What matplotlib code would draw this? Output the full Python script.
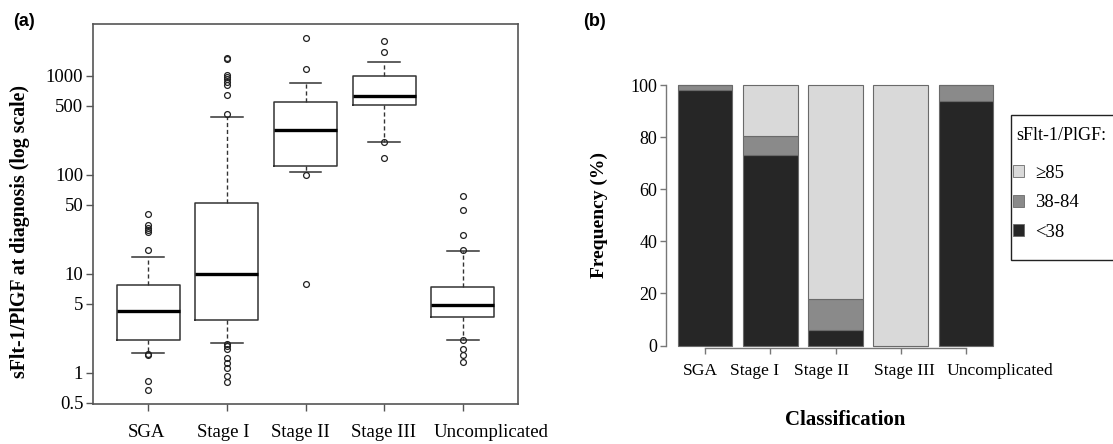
import matplotlib
matplotlib.use("Agg")
import matplotlib.pyplot as plt
import matplotlib.transforms as mtransforms
from matplotlib.patches import Patch, Rectangle

plt.rcParams['font.family'] = ['Liberation Serif', 'DejaVu Serif']

# ---------- DATA ----------
groups = ["SGA", "Stage I", "Stage II", "Stage III", "Uncomplicated"]

# panel (a): sFlt-1/PlGF box plot summaries
medians = [4.2, 10, 285, 624, 4.87]
q1 = [2.15, 3.43, 123, 513, 3.68]
q3 = [7.7, 51.8, 550, 1000, 7.45]
whisker_lo = [1.58, 2.0, 106, 215, 2.15]
whisker_hi = [14.7, 388, 844, 1375, 16.9]
outliers = [
    [40, 31, 29.4, 27.8, 26.5, 17.6, 1.55, 1.52, 0.82, 0.67],
    [1530, 1485, 1020, 984, 925, 877, 805, 638, 416,
     1.95, 1.85, 1.75, 1.41, 1.25, 1.11, 0.92, 0.81],
    [2400, 1170, 100, 7.9],
    [2260, 1757, 214, 150],
    [61.8, 44.7, 24.8, 17.6, 2.13, 1.76, 1.51, 1.29],
]
log_ticks = [0.5, 1, 5, 10, 50, 100, 500, 1000]
log_tick_labels = ["0.5", "1", "5", "10", "50", "100", "500", "1000"]

# panel (b): frequency (%) per ratio band
pct_lt38 = [98, 73, 6, 0, 94]
pct_38_84 = [2, 7.3, 11.9, 0, 6]
pct_ge85 = [0, 19.7, 82.1, 100, 0]
freq_ticks = [0, 20, 40, 60, 80, 100]
band_labels = ["\u226585", "38-84", "<38"]

# ---------- FIGURE ----------
fig = plt.figure(figsize=(11.13, 4.44), dpi=100)
W, H = 1113, 444

def px_axes(x0, y0, x1, y1):
    return fig.add_axes([x0 / W, 1 - y1 / H, (x1 - x0) / W, (y1 - y0) / H])

frame_col = "#555555"

# ---------- PANEL (a) ----------
ax1 = px_axes(93, 24, 518, 404)
stats = []
for i, g in enumerate(groups):
    stats.append(dict(label=g, med=medians[i], q1=q1[i], q3=q3[i],
                      whislo=whisker_lo[i], whishi=whisker_hi[i],
                      fliers=outliers[i]))
ax1.bxp(stats, positions=range(1, 6), widths=0.8, capwidths=0.4,
        boxprops=dict(color="#333333", lw=1.1),
        medianprops=dict(color="black", lw=2.4),
        whiskerprops=dict(color="#333333", lw=1.0, linestyle=(0, (3, 2))),
        capprops=dict(color="#333333", lw=1.1),
        flierprops=dict(marker="o", markerfacecolor="none",
                        markeredgecolor="#222222", markersize=4.2,
                        markeredgewidth=0.9))
ax1.set_yscale("log")
ax1.set_ylim(0.485, 3350)
ax1.set_xlim(0.3, 5.7)
ax1.set_yticks(log_ticks)
ax1.set_yticklabels(log_tick_labels)
ax1.minorticks_off()
ax1.set_xticks(range(1, 6))
ax1.set_xticklabels([])
ax1.tick_params(axis="y", direction="out", length=5, width=1,
                color=frame_col, labelsize=13.5, pad=2)
ax1.tick_params(axis="x", direction="out", length=5, width=1,
                color=frame_col)
for s in ax1.spines.values():
    s.set_color(frame_col)
    s.set_linewidth(1.2)
# category names drift off their ticks in the original layout
trans1 = mtransforms.blended_transform_factory(ax1.transData, ax1.transAxes)
label_x_a = [0.975, 1.957, 2.94, 3.99, 5.36]
for lx, g in zip(label_x_a, groups):
    ax1.text(lx, -0.0763, g, ha="center", va="center", fontsize=13.5,
             transform=trans1)
ax1.set_ylabel("sFlt-1/PlGF at diagnosis (log scale)", fontsize=14.3,
               fontweight="bold")
ax1.yaxis.set_label_coords(-63 / 425, 0.455)

# ---------- PANEL (b) ----------
ax2 = px_axes(665.7, 74.6, 1005.3, 356)
x = [0.7 + 1.2 * i for i in range(len(groups))]
c_dark, c_mid, c_light = "#262626", "#8a8a8a", "#d9d9d9"
edge = "#6a6a6a"
bottom2 = [a + b for a, b in zip(pct_lt38, pct_38_84)]
ax2.bar(x, pct_lt38, width=1.0, color=c_dark, edgecolor=edge, lw=0.8)
ax2.bar(x, pct_38_84, width=1.0, bottom=pct_lt38, color=c_mid,
        edgecolor=edge, lw=0.8)
ax2.bar(x, pct_ge85, width=1.0, bottom=bottom2, color=c_light,
        edgecolor=edge, lw=0.8)
ax2.set_xlim(-0.032, 6.232)
ax2.set_ylim(-4, 104)
ax2.set_yticks(freq_ticks)
ax2.set_yticklabels([str(t) for t in freq_ticks])
ax2.set_xticks(x)
ax2.set_xticklabels([])
for side in ("top", "right"):
    ax2.spines[side].set_visible(False)
ax2.spines["left"].set_bounds(0, 100)
ax2.spines["bottom"].set_bounds(x[0], x[-1])
ax2.spines["bottom"].set_position(("data", -1))
for s in ("left", "bottom"):
    ax2.spines[s].set_color("#777777")
    ax2.spines[s].set_linewidth(1.0)
ax2.tick_params(axis="y", direction="out", length=4, width=1,
                color="#777777", labelsize=13, pad=2)
ax2.tick_params(axis="x", direction="out", length=4, width=1,
                color="#777777")
label_x_b = [0.60, 1.61, 2.85, 4.38, 6.14]
for lx, g in zip(label_x_b, groups):
    ax2.text(lx, -9.8, g, ha="center", va="center", fontsize=12.6)
ax2.set_ylabel("Frequency (%)", fontsize=14, fontweight="bold")
ax2.yaxis.set_label_coords(-58 / 339.6, 0.5)
fig.text(845 / W, 1 - 420 / H, "Classification", ha="center", va="center",
         fontsize=15, fontweight="bold")

# legend: framed box running off the right edge, as in the original
fig.patches.append(Rectangle((1010.7 / W, 1 - 260 / H), 120 / W, 145 / H,
                             transform=fig.transFigure, facecolor="white",
                             edgecolor="#222222", lw=1.0, zorder=3))
fig.text(1016.5 / W, 1 - 135 / H, "sFlt-1/PlGF:", ha="left", va="center",
         fontsize=13, zorder=4)
handles = [Patch(facecolor=c_light, edgecolor=edge, lw=0.6),
           Patch(facecolor=c_mid, edgecolor=edge, lw=0.6),
           Patch(facecolor=c_dark, edgecolor=edge, lw=0.6)]
leg = fig.legend(handles, band_labels, loc="upper left",
                 bbox_to_anchor=(1013 / W, 1 - 165 / H),
                 fontsize=13.5, frameon=False, handlelength=0.6,
                 handleheight=0.6, handletextpad=0.6, labelspacing=0.66,
                 borderpad=0.0, borderaxespad=0)
leg.set_zorder(5)

# ---------- PANEL LABELS ----------
fig.text(24 / W, 1 - 22 / H, "(a)", ha="center", va="center", fontsize=13,
         fontweight="bold", family="Liberation Sans")
fig.text(595 / W, 1 - 22 / H, "(b)", ha="center", va="center", fontsize=13,
         fontweight="bold", family="Liberation Sans")

fig.savefig("out.png", dpi=100)
